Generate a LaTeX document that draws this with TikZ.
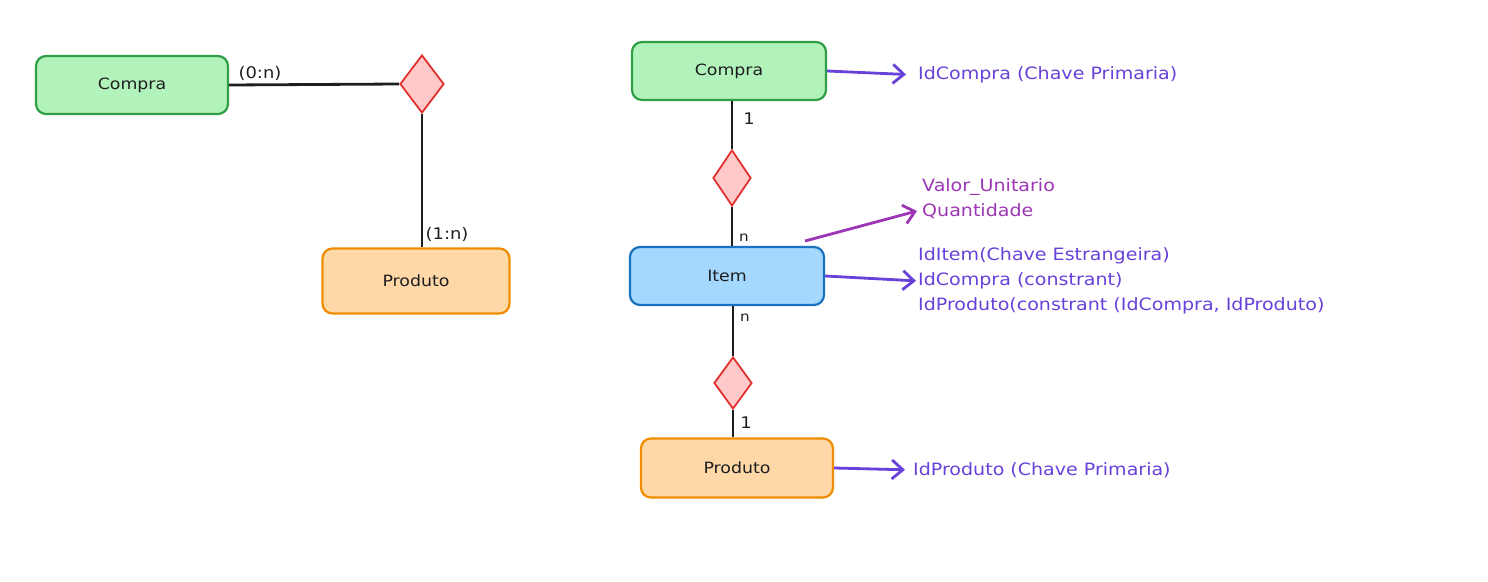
\documentclass[tikz,border=0pt]{standalone}
\usepackage{fontspec}
\setmainfont{DejaVu Sans}[FakeStretch=1.12]
\usetikzlibrary{shapes.geometric,arrows.meta}
\definecolor{greenF}{HTML}{B2F2BB}
\definecolor{greenS}{HTML}{2F9E44}
\definecolor{orangeF}{HTML}{FFD8A8}
\definecolor{orangeS}{HTML}{F08C00}
\definecolor{blueF}{HTML}{A5D8FF}
\definecolor{blueS}{HTML}{1971C2}
\definecolor{redF}{HTML}{FFC9C9}
\definecolor{redS}{HTML}{E03131}
\definecolor{violetT}{HTML}{6741D9}
\definecolor{grapeT}{HTML}{9C36B5}
\definecolor{inkT}{HTML}{1E1E1E}
\begin{document}
\begin{tikzpicture}[x=1pt,y=-1pt,
  entity/.style={draw, rounded corners=10pt, line width=2.2pt, minimum width=192pt, minimum height=58pt,
    font=\fontsize{15.5}{18}\selectfont, text=inkT},
  rel/.style={draw=redS, fill=redF, line width=1.8pt, shape=diamond, inner sep=0pt},
  link/.style={line width=2.8pt, draw=inkT},
  card/.style={font=\fontsize{16}{19}\selectfont, text=inkT, inner sep=0pt},
  attr/.style={font=\fontsize{17}{25}\selectfont, anchor=west, align=left, inner sep=0pt},
  arr/.style={-{Straight Barb[length=11pt,width=19pt]}, line width=2.8pt, shorten >=12pt}
]
\useasboundingbox (0,0) rectangle (1488,581);

% ---- left diagram ----
\node[entity, fill=greenF, draw=greenS] (c1) at (132,85) {Compra};
\node[rel, minimum width=44pt, minimum height=58pt] (d1) at (422,84) {};
\node[entity, fill=orangeF, draw=orangeS, minimum width=187pt, minimum height=65pt] (p1) at (416,281) {Produto};
\draw[link] (c1.east) -- (d1.west);
\draw[link] (d1.south) -- (d1.south |- p1.north);
\node[card] (l01) at (260,73) {(0:n)};
\node[card] (l02) at (447,234) {(1:n)};

% ---- right diagram ----
\node[entity, fill=greenF, draw=greenS, minimum width=194pt] (c2) at (729,71) {Compra};
\node[rel, minimum width=38pt, minimum height=56pt] (d2) at (732,178) {};
\node[entity, fill=blueF, draw=blueS, minimum width=194pt] (it) at (727,276) {Item};
\node[rel, minimum width=38pt, minimum height=52pt] (d3) at (733,383) {};
\node[entity, fill=orangeF, draw=orangeS, minimum height=59pt] (p2) at (737,468) {Produto};

\draw[link] (d2.north) -- (d2.north |- c2.south);
\draw[link] (d2.south) -- (d2.south |- it.north);
\draw[link] (d3.north) -- (d3.north |- it.south);
\draw[link] (d3.south) -- (d3.south |- p2.north);

\node[card] (k1) at (749,119) {1};
\node[card, font=\fontsize{13.5}{16}\selectfont] (k2) at (744,238) {n};
\node[card, font=\fontsize{13.5}{16}\selectfont] (k3) at (745,318) {n};
\node[card] (k4) at (746,423) {1};

% attributes
\node[attr, text=violetT] (a1) at (918,75) {IdCompra (Chave Primaria)};
\node[attr, text=grapeT] (a2) at (922,199) {Valor\_Unitario\\Quantidade};
\node[attr, text=violetT] (a3) at (918,281) {IdItem(Chave Estrangeira)\\IdCompra (constrant)\\IdProduto(constrant (IdCompra, IdProduto)};
\node[attr, text=violetT] (a4) at (913,470) {IdProduto (Chave Primaria)};

\coordinate (vs) at (805,241);
\coordinate (ve) at (917,211);
\draw[arr, draw=violetT] (c2.east) -- (a1.west);
\draw[arr, draw=grapeT, shorten >=0pt] (vs) -- (ve);
\draw[arr, draw=violetT, shorten >=2pt] (it.east) -- (a3.west);
\draw[arr, draw=violetT, shorten >=8pt] (p2.east) -- (a4.west);
\end{tikzpicture}
\end{document}
